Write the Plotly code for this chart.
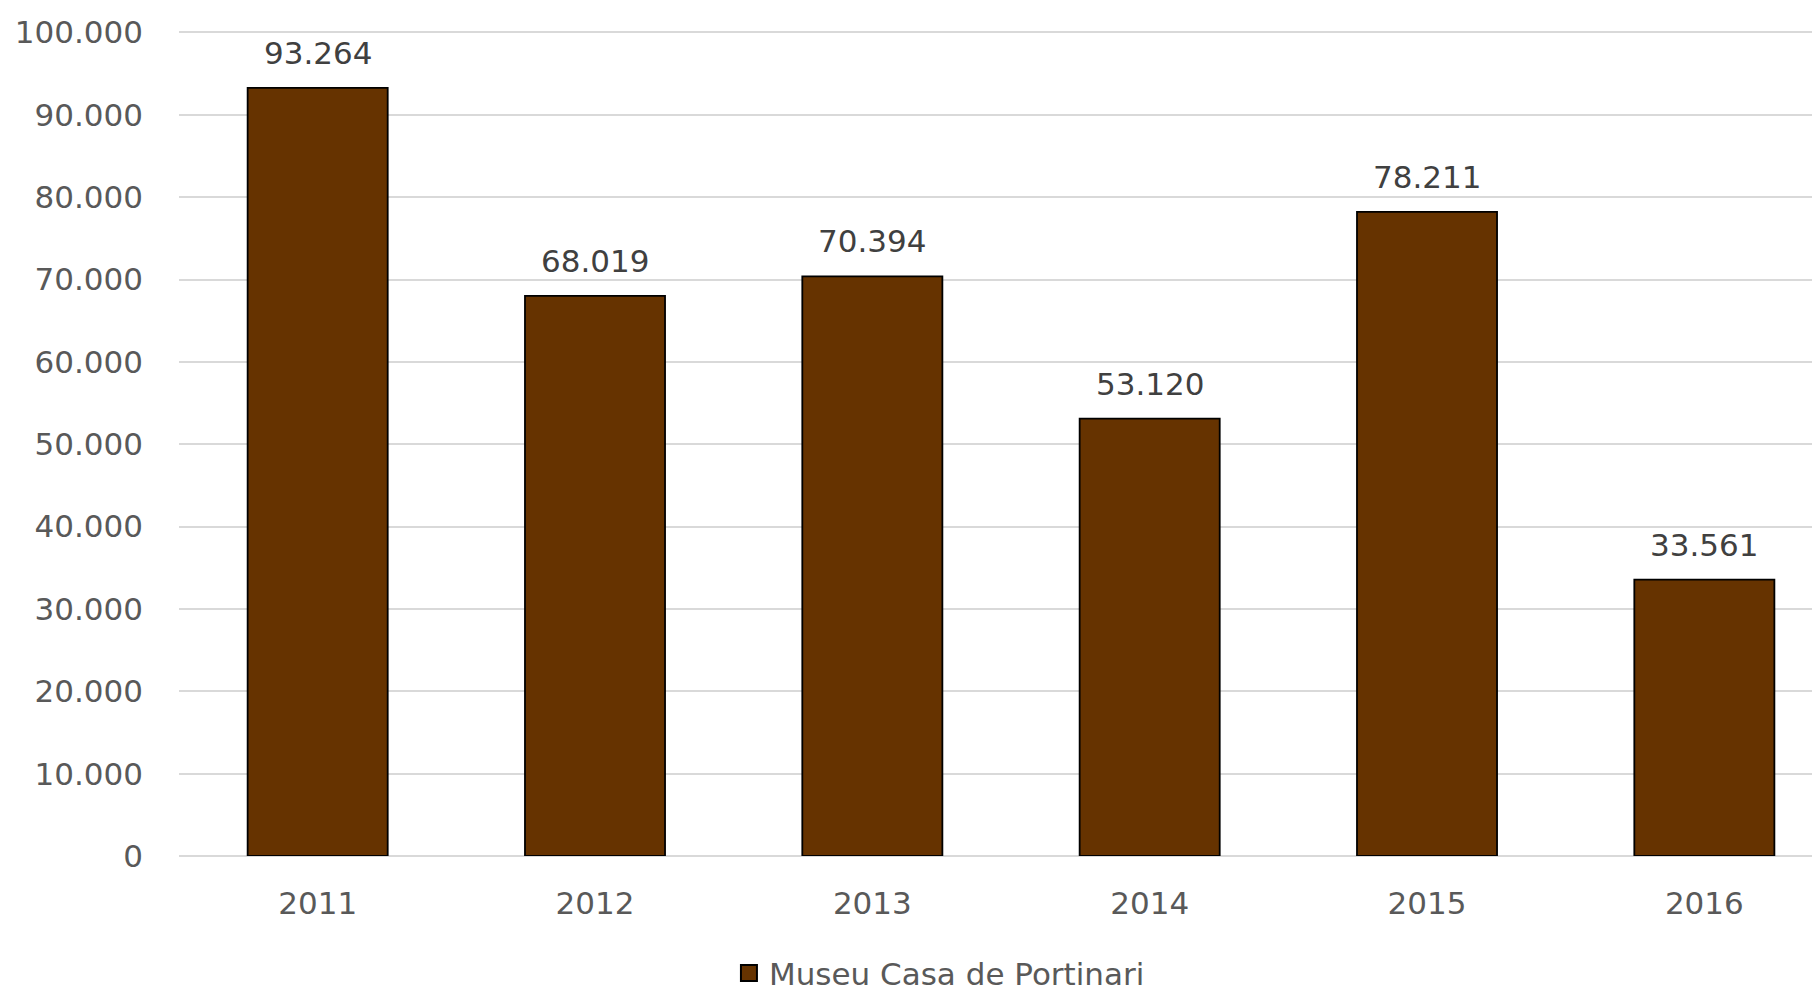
import plotly.graph_objects as go

years = ["2011", "2012", "2013", "2014", "2015", "2016"]
visitors = [93264, 68019, 70394, 53120, 78211, 33561]
series_name = "Museu Casa de Portinari"
bar_color = "#663300"

FONT = "DejaVu Sans"

fig = go.Figure()
fig.add_trace(go.Bar(
    x=years, y=visitors, name=series_name,
    marker=dict(color=bar_color, line=dict(color="#000000", width=1.8)),
    showlegend=False, hoverinfo="x+y",
))
# legend entry with a larger square glyph
fig.add_trace(go.Scatter(
    x=[None], y=[None], mode="markers", name=series_name,
    marker=dict(symbol="square", size=26, color=bar_color,
                line=dict(color="#000000", width=2)),
    showlegend=True,
))

for i, v in enumerate(visitors):
    fig.add_annotation(
        x=i, y=v, text=f"{v:,}".replace(",", "."), showarrow=False,
        yanchor="middle", yshift=35,
        font=dict(family=FONT, size=31, color="#404040"),
    )

fig.update_layout(
    width=1812, height=982,
    margin=dict(l=171, r=0, t=22, b=134, autoexpand=False),
    paper_bgcolor="white", plot_bgcolor="white",
    separators=",.",
    bargap=0.495,
    font=dict(family=FONT, size=31, color="#595959"),
    legend=dict(orientation="h", x=0.4634, xanchor="center", y=-0.142, yanchor="middle",
                font=dict(family=FONT, size=31, color="#595959"),
                itemsizing="trace"),
)
fig.update_xaxes(
    type="category", range=[-0.5, 5.417], showgrid=False, showline=False,
    ticks="", ticklabelstandoff=26,
    tickfont=dict(family=FONT, size=31, color="#595959"),
)
fig.update_yaxes(
    range=[0, 100300], tickvals=list(range(0, 100001, 10000)), tickformat=",d",
    showgrid=True, gridcolor="#d9d9d9", gridwidth=1.5,
    zeroline=True, zerolinecolor="#d9d9d9", zerolinewidth=2,
    ticks="", ticklabelstandoff=35, showline=False,
    tickfont=dict(family=FONT, size=31, color="#595959"),
)

fig.write_html("out.html")
